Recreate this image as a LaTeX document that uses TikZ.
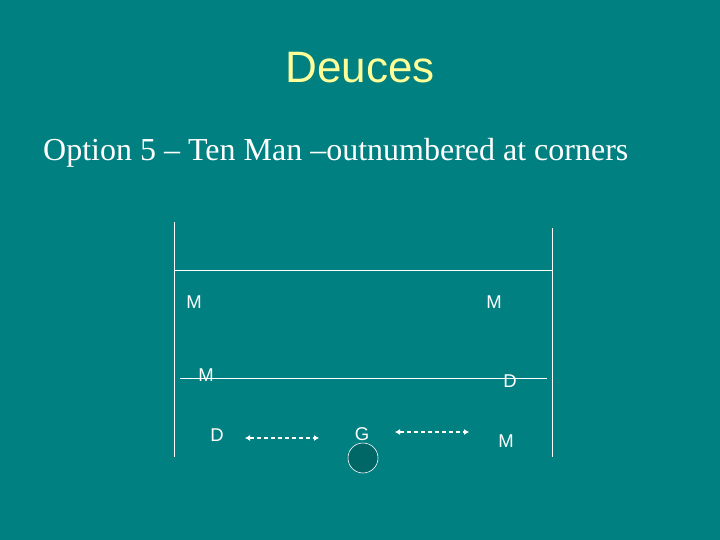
\documentclass[tikz,border=0pt]{standalone}
\usepackage{fontspec}
\setmainfont{Liberation Serif}
\setsansfont{Liberation Sans}
\usetikzlibrary{arrows.meta, positioning}

\definecolor{teal0}{HTML}{008080}
\definecolor{goalfill}{HTML}{006666}
\definecolor{titleyellow}{HTML}{FFFF99}

\tikzset{
	player/.style={text=white, font=\sffamily\fontsize{18.5}{18.5}\selectfont, inner sep=0pt},
	fieldline/.style={draw=white, line width=0.9pt},
	moveline/.style={white, line width=1.8pt, dash pattern=on 4.5pt off 2.5pt, {Latex[length=5pt,width=6pt]}-{Latex[length=5pt,width=6pt]}}
}

\begin{document}
\begin{tikzpicture}[x=1pt, y=-1pt]
		\fill[teal0] (0, 0) rectangle (720, 540);
		\useasboundingbox (0, 0) rectangle (720, 540);

		\node[text=titleyellow, font=\sffamily\fontsize{44}{44}\selectfont, inner sep=0pt] (title) at (360, 68) {Deuces};
		\node[text=white, font=\fontsize{32}{32}\selectfont, anchor=base west, inner sep=0pt] (sub) at (43, 161) {Option 5 – Ten Man –outnumbered at corners};

		% field
		\draw[fieldline] (174, 222) -- (174, 457);
		\draw[fieldline] (552, 228) -- (552, 457);
		\draw[fieldline] (174, 270) -- (552, 270);
		\draw[fieldline] (180, 378) -- (547, 378);

		% players
		\node[player] (m1) at (194, 302) {M};
		\node[player] (m2) at (494, 302) {M};
		\node[player] (m3) at (206, 375) {M};
		\node[player] (d1) at (510, 381) {D};
		\node[player] (d2) at (217, 435) {D};
		\node[player] (g) at (362, 434) {G};
		\node[player] (m4) at (506, 441) {M};
		\node[circle, draw=white, fill=goalfill, line width=0.6pt, minimum size=30pt, inner sep=0pt] (goal) at (363, 458) {};

		\coordinate (a1) at (245, 438);
		\coordinate (a2) at (319, 438);
		\coordinate (b1) at (395, 432);
		\coordinate (b2) at (469, 432);
		\draw[moveline] (a1) -- (a2);
		\draw[moveline] (b1) -- (b2);
	\end{tikzpicture}
\end{document}
